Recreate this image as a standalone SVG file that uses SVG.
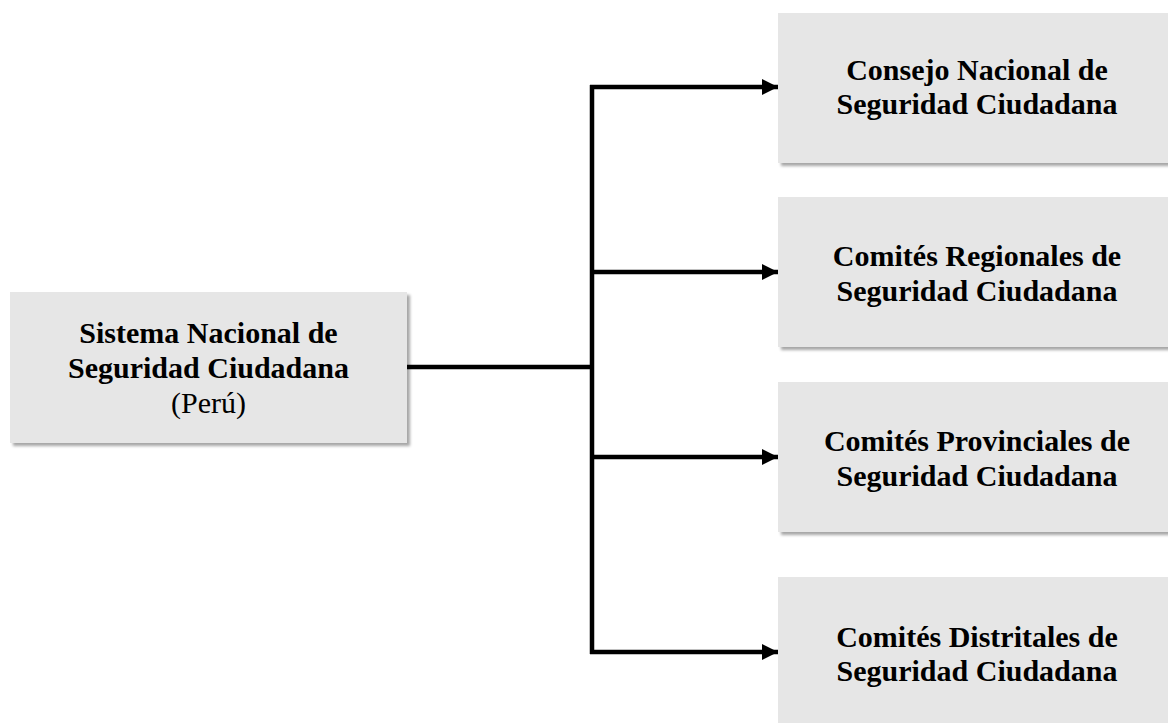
<svg xmlns="http://www.w3.org/2000/svg" width="1168" height="723" viewBox="0 0 1168 723">
<style>
.box{fill:#e6e6e6;filter:url(#sh)}
.t{font-family:"Liberation Serif","Times New Roman",serif;font-size:30px;fill:#000;text-anchor:middle}
.b{font-weight:bold}
.ln{stroke:#000;stroke-width:4.5;fill:none}
</style>
<defs>
<filter id="sh" x="-5%" y="-5%" width="115%" height="120%">
<feDropShadow dx="3" dy="3" stdDeviation="1.8" flood-color="#000" flood-opacity="0.35"/>
</filter>
<marker id="ah" markerWidth="16" markerHeight="16" refX="16" refY="8" orient="auto" markerUnits="userSpaceOnUse">
<path d="M0,0 L16,8 L0,16 Z" fill="#000"/>
</marker>
</defs>
<rect width="1168" height="723" fill="#fff"/>
<g id="connectors">
<path class="ln" d="M407,367 H592"/>
<path class="ln" d="M592,85 V654"/>
<path class="ln" d="M590,87 H778" marker-end="url(#ah)"/>
<path class="ln" d="M592,272 H778" marker-end="url(#ah)"/>
<path class="ln" d="M592,457 H778" marker-end="url(#ah)"/>
<path class="ln" d="M590,652 H778" marker-end="url(#ah)"/>
</g>
<g id="sistema">
<rect class="box" x="10" y="292" width="397" height="151"/>
<text class="t b" x="208.5" y="343">Sistema Nacional de</text>
<text class="t b" x="208.5" y="378">Seguridad Ciudadana</text>
<text class="t" x="208.5" y="413">(Perú)</text>
</g>
<g id="consejo">
<rect class="box" x="778" y="13" width="398" height="150"/>
<text class="t b" x="977" y="80">Consejo Nacional de</text>
<text class="t b" x="977" y="114">Seguridad Ciudadana</text>
</g>
<g id="regionales">
<rect class="box" x="778" y="197" width="398" height="150"/>
<text class="t b" x="977" y="266">Comités Regionales de</text>
<text class="t b" x="977" y="301">Seguridad Ciudadana</text>
</g>
<g id="provinciales">
<rect class="box" x="778" y="382" width="398" height="150"/>
<text class="t b" x="977" y="451">Comités Provinciales de</text>
<text class="t b" x="977" y="486">Seguridad Ciudadana</text>
</g>
<g id="distritales">
<rect class="box" x="778" y="577" width="398" height="150"/>
<text class="t b" x="977" y="647">Comités Distritales de</text>
<text class="t b" x="977" y="681">Seguridad Ciudadana</text>
</g>
</svg>
